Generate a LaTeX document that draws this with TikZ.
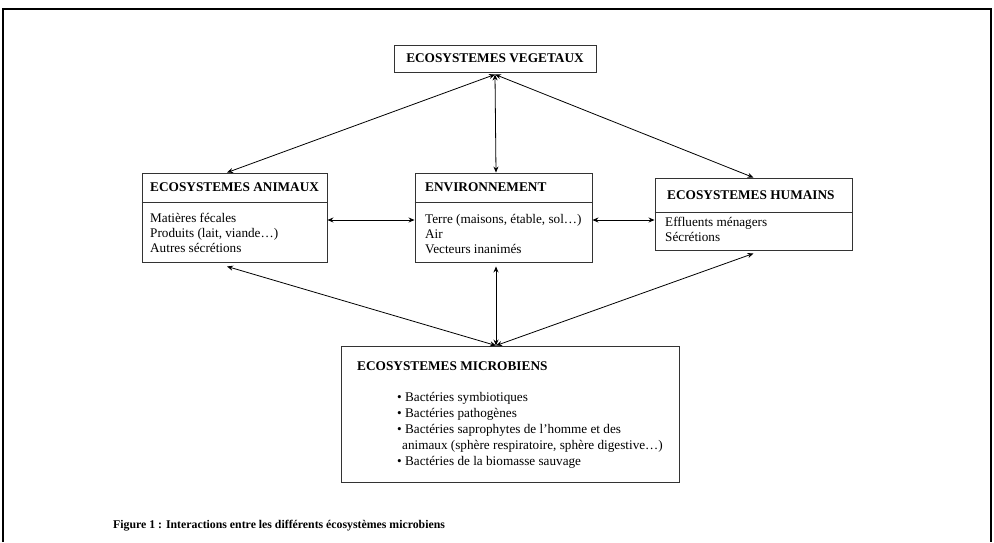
\documentclass[tikz,border=0pt]{standalone}
\usepackage{fontspec}
\setmainfont{Liberation Serif}
\usetikzlibrary{positioning,arrows.meta}
\begin{document}
\begin{tikzpicture}[x=1pt,y=-1pt,>={Stealth[length=6pt,width=5pt]},
  box/.style={draw=black!80,line width=0.9pt,inner sep=0pt},
  title/.style={anchor=west,inner sep=0pt,font=\fontsize{13.3}{15}\selectfont\bfseries},
  body/.style={anchor=north west,align=left,inner sep=0pt,font=\fontsize{13.2}{15}\selectfont},
  link/.style={<->,line width=0.8pt}]
  \useasboundingbox (0,0) rectangle (994,542);
  \draw[line width=2.2pt] (3,542) -- (3,9) -- (991,9) -- (991,542);
  % boxes
  \node[box,minimum width=202pt,minimum height=27pt] (veg) at (495,58.5) {};
  \node[box,minimum width=185pt,minimum height=89pt] (anim) at (234.5,217.5) {};
  \node[box,minimum width=177pt,minimum height=89pt] (env) at (503.5,217.5) {};
  \node[box,minimum width=197pt,minimum height=72pt] (hum) at (753.5,214) {};
  \node[box,minimum width=338pt,minimum height=136pt] (micro) at (510,414) {};
  \draw[black!80,line width=0.9pt] (anim.west |- 0,202) -- (anim.east |- 0,202);
  \draw[black!80,line width=0.9pt] (env.west |- 0,202) -- (env.east |- 0,202);
  \draw[black!80,line width=0.9pt] (hum.west |- 0,212) -- (hum.east |- 0,212);
  % titles
  \node[title,anchor=center] (vegtitle) at (veg) {ECOSYSTEMES VEGETAUX};
  \node[title] (animtitle) at (150,187.5) {ECOSYSTEMES ANIMAUX};
  \node[title] (envtitle) at (425,187.5) {ENVIRONNEMENT};
  \node[title] (humtitle) at (667,195) {ECOSYSTEMES HUMAINS};
  \node[title] (microtitle) at (357,366) {ECOSYSTEMES MICROBIENS};
  % texts
  \node[body] (animtext) at (150,213) {Matières fécales\\Produits (lait, viande\dots)\\Autres sécrétions};
  \node[body] (envtext) at (425,214) {Terre (maisons, étable, sol\dots)\\Air\\Vecteurs inanimés};
  \node[body] (humtext) at (665,217) {Effluents ménagers\\Sécrétions};
  \node[body,font=\fontsize{13.2}{16}\selectfont] (microtext) at (397,392)
    {\textbullet{} Bactéries symbiotiques\\
     \textbullet{} Bactéries pathogènes\\
     \textbullet{} Bactéries saprophytes de l'homme et des\\
     \hspace*{5pt}animaux (sphère respiratoire, sphère digestive\dots)\\
     \textbullet{} Bactéries de la biomasse sauvage};
  \node[anchor=west,inner sep=0pt,font=\fontsize{11.8}{13}\selectfont\bfseries] (caption) at (113,526)
    {Figure 1 : Interactions entre les différents écosystèmes microbiens};
  % connectors
  \coordinate (vegfoot) at ([yshift=-2pt]veg.south);
  \coordinate (microtop) at ([xshift=-14pt]micro.north);
  \draw[link] (vegfoot) -- ([xshift=-7.5pt]anim.north);
  \draw[link] (vegfoot) -- ([xshift=-7.5pt]env.north);
  \draw[link] (vegfoot) -- (hum.north);
  \draw[link] ([yshift=-2.5pt]anim.east) -- ([yshift=-2.5pt]env.west);
  \draw[link] ([yshift=-2.5pt]env.east) -- ([yshift=-6pt]hum.west);
  \draw[link] (microtop) -- ([xshift=-7.5pt,yshift=-4pt]anim.south);
  \draw[link] (microtop) -- ([xshift=-7.5pt,yshift=-4pt]env.south);
  \draw[link] (microtop) -- ([yshift=-3pt]hum.south);
\end{tikzpicture}
\end{document}
